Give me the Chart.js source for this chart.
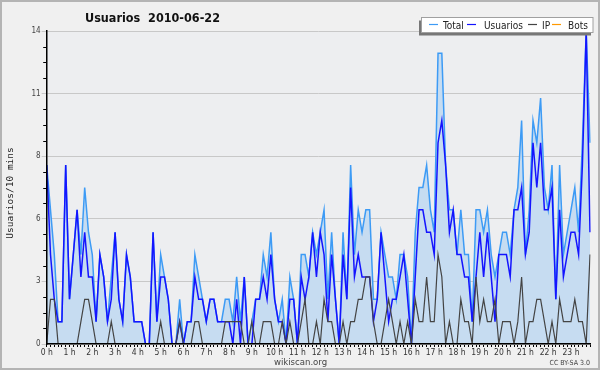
<!DOCTYPE html>
<html>
<head>
<meta charset="utf-8">
<script src="https://cdn.jsdelivr.net/npm/chart.js@4.4.1/dist/chart.umd.min.js"></script>
<style>
  html, body { margin: 0; padding: 0; background: #f0f0f0; }
  #wrap { position: relative; width: 600px; height: 370px; }
  canvas { display: block; }
</style>
</head>
<body>
<div id="wrap"><canvas id="c" width="600" height="370"></canvas></div>
<script>
// ---- data (10-minute intervals, 2010-06-22) ----
const CATEGORIES = [];
for (let h = 0; h < 24; h++) {
  for (let m = 0; m < 60; m += 10) {
    CATEGORIES.push(String(h).padStart(2, '0') + ':' + String(m).padStart(2, '0'));
  }
}

const TOTAL = [
  8,6,4,1,1,8,2,4,6,4,
  7,5,4,1,4,3,1,3,5,2,
  1,4,3,1,1,1,0,0,5,1,
  4,3,2,0,0,2,0,1,1,4,
  3,2,1,2,2,1,1,2,2,1,
  3,1,3,0,1,2,2,4,3,5,
  2,1,2,0,3,2,0,4,4,3,
  5,4,5,6,2,5,2,0,5,2,
  8,4,6,5,6,6,2,2,5,4,
  3,3,2,4,4,3,0,5,7,7,
  8,6,5,13,13,8,6,6,4,6,
  4,4,1,6,6,5,6,4,3,4,
  5,5,4,6,7,10,4,6,10,9,
  11,7,6,8,2,8,4,5,6,7,
  5,9,14,9
];

const USUARIOS = [
  8,4,2,1,1,8,2,4,6,3,
  5,3,3,1,4,3,1,2,5,2,
  1,4,3,1,1,1,0,0,5,1,
  3,3,2,0,0,1,0,1,1,3,
  2,2,1,2,2,1,1,1,1,0,
  2,0,3,0,0,2,2,3,2,4,
  2,1,1,0,2,2,0,3,2,3,
  5,3,5,4,1,4,2,0,4,2,
  7,3,4,3,3,3,1,2,5,3,
  1,2,2,3,4,2,0,3,6,6,
  5,5,4,9,10,8,5,6,4,4,
  3,3,1,3,5,3,5,3,1,4,
  4,4,3,6,6,7,4,5,9,7,
  9,6,6,7,2,6,3,4,5,5,
  4,8,14,5
];

const IP = [
  0,2,2,0,0,0,0,0,0,1,
  2,2,1,0,0,0,0,1,0,0,
  0,0,0,0,0,0,0,0,0,0,
  1,0,0,0,0,1,0,0,0,1,
  1,0,0,0,0,0,0,1,1,1,
  1,1,0,0,1,0,0,1,1,1,
  0,0,1,0,1,0,0,1,2,0,
  0,1,0,2,1,1,0,0,1,0,
  1,1,2,2,3,3,1,0,0,1,
  2,1,0,1,0,1,0,2,1,1,
  3,1,1,4,3,0,1,0,0,2,
  1,1,0,3,1,2,1,1,2,0,
  1,1,1,0,1,3,0,1,1,2,
  2,1,0,1,0,2,1,1,1,2,
  1,1,0,4
];

const BOTS = [
  0,0,0,0,0,0,0,0,0,0,
  0,0,0,0,0,0,0,0,0,0,
  0,0,0,0,0,0,0,0,0,0,
  0,0,0,0,0,0,0,0,0,0,
  0,0,0,0,0,0,0,0,0,0,
  0,0,0,0,0,0,0,0,0,0,
  0,0,0,0,0,0,0,0,0,0,
  0,0,0,0,0,0,0,0,0,0,
  0,0,0,0,0,0,0,0,0,0,
  0,0,0,0,0,0,0,0,0,0,
  0,0,0,0,0,0,0,0,0,0,
  0,0,0,0,0,0,0,0,0,0,
  0,0,0,0,0,0,0,0,0,0,
  0,0,0,0,0,0,0,0,0,0,
  0,0,0,0
];

const Y_TICKS = [0, 2.8, 5.6, 8.4, 11.2, 14];
const Y_MINOR_STEP = 0.7;

const TITLE = 'Usuarios  2010-06-22';
const Y_TITLE = 'Usuarios/10 mins';
const FOOTER = 'wikiscan.org';
const LICENSE = 'CC BY-SA 3.0';

// ---- styles ----
const SANS = '"DejaVu Sans Condensed", "DejaVu Sans", sans-serif';
const MONO = '"DejaVu Sans Mono", monospace';
const COLORS = { total: '#3d9bf5', totalFill: '#c6dcf1', usu: '#1414ff', ip: '#444444', bots: '#ff9900' };

const decor = {
  id: 'decor',
  beforeDraw(chart) {
    const { ctx, chartArea: a } = chart;
    ctx.save();
    ctx.fillStyle = '#f0f0f0';
    ctx.fillRect(0, 0, chart.width, chart.height);
    ctx.fillStyle = '#edeef0';
    ctx.fillRect(a.left, a.top, a.right - a.left, a.bottom - a.top);
    ctx.restore();
  },
  afterDraw(chart) {
    const { ctx, chartArea: a } = chart;
    const y = chart.scales.y;
    ctx.save();
    // minor ticks on y axis
    ctx.strokeStyle = '#000';
    ctx.lineWidth = 1;
    for (let k = 1; k * Y_MINOR_STEP < 14 - 1e-6; k++) {
      if (k % 4 === 0) continue;
      const py = Math.round(y.getPixelForValue(k * Y_MINOR_STEP)) + 0.5;
      ctx.beginPath();
      ctx.moveTo(a.left - 3.5, py);
      ctx.lineTo(a.left, py);
      ctx.stroke();
    }
    // title
    ctx.fillStyle = '#111';
    ctx.font = 'bold 12.5px ' + SANS;
    ctx.textAlign = 'left';
    ctx.textBaseline = 'alphabetic';
    ctx.fillText(TITLE, 85, 21.5);
    // y title
    ctx.save();
    ctx.translate(13, 193);
    ctx.rotate(-Math.PI / 2);
    ctx.font = '9.5px ' + MONO;
    ctx.fillStyle = '#222';
    ctx.textAlign = 'center';
    ctx.fillText(Y_TITLE, 0, 0);
    ctx.restore();
    // footer
    ctx.fillStyle = '#444';
    ctx.font = '9.5px ' + SANS;
    ctx.textAlign = 'center';
    ctx.fillText(FOOTER, 300.5, 365);
    ctx.font = '7px ' + SANS;
    ctx.textAlign = 'right';
    ctx.fillText(LICENSE, 590, 365);
    // legend
    ctx.fillStyle = '#777';
    ctx.fillRect(419, 20.5, 172, 15);
    ctx.fillStyle = '#fff';
    ctx.fillRect(421.5, 17.5, 171.5, 15);
    ctx.strokeStyle = '#a0a0a0';
    ctx.lineWidth = 1;
    ctx.strokeRect(421.5, 17.5, 171.5, 15);
    const lineX = [429, 467, 528, 552];
    const textX = [443, 484, 542, 568];
    ctx.font = '10px ' + SANS;
    ctx.textAlign = 'left';
    chart.data.datasets.forEach((ds, i) => {
      ctx.strokeStyle = ds.borderColor;
      ctx.lineWidth = 1.2;
      ctx.beginPath();
      ctx.moveTo(lineX[i], 24.5);
      ctx.lineTo(lineX[i] + 9, 24.5);
      ctx.stroke();
      ctx.fillStyle = '#222';
      ctx.fillText(ds.label, textX[i], 28.5);
    });
    // outer border
    ctx.strokeStyle = '#b4b4b4';
    ctx.lineWidth = 2;
    ctx.strokeRect(1, 1, chart.width - 2, chart.height - 2);
    ctx.restore();
  }
};

const ctx = document.getElementById('c').getContext('2d');
new Chart(ctx, {
  type: 'line',
  data: {
    labels: CATEGORIES,
    datasets: [
      { label: 'Total', data: TOTAL, borderColor: COLORS.total, backgroundColor: COLORS.totalFill,
        fill: 'origin', borderWidth: 1.5, order: 4 },
      { label: 'Usuarios', data: USUARIOS, borderColor: COLORS.usu, backgroundColor: COLORS.usu,
        fill: false, borderWidth: 1.5, order: 3 },
      { label: 'IP', data: IP, borderColor: COLORS.ip, backgroundColor: COLORS.ip,
        fill: false, borderWidth: 1.2, order: 2 },
      { label: 'Bots', data: BOTS, borderColor: COLORS.bots, backgroundColor: COLORS.bots,
        fill: false, borderWidth: 1.5, order: 1 }
    ]
  },
  options: {
    responsive: false,
    animation: false,
    events: [],
    layout: { padding: { left: 0, top: 31, right: 10, bottom: 10 } },
    elements: { point: { radius: 0 }, line: { tension: 0 } },
    plugins: { legend: { display: false }, title: { display: false }, tooltip: { enabled: false } },
    scales: {
      x: {
        type: 'category',
        offset: false,
        grid: { display: true, drawOnChartArea: false, drawTicks: true, tickLength: 3, color: '#000', tickColor: '#000', lineWidth: 1 },
        border: { display: true, color: '#000', width: 1.5, z: 1 },
        ticks: {
          autoSkip: false, maxRotation: 0, minRotation: 0, padding: 1,
          color: '#333', font: { family: SANS, size: 8.5 },
          callback: (v, i) => (i % 6 === 0 ? (i / 6) + ' h' : '')
        },
        afterFit: (s) => { s.height = 16; }
      },
      y: {
        min: 0, max: 14,
        afterBuildTicks: (s) => { s.ticks = Y_TICKS.map(v => ({ value: v })); },
        grid: { color: '#c8c8c8', lineWidth: 1, tickLength: 5 },
        border: { display: true, color: '#000', width: 1.5, z: 1 },
        ticks: {
          padding: 1, color: '#444', font: { family: SANS, size: 8 },
          callback: (v) => String(Math.round(v))
        },
        afterFit: (s) => { s.width = 46.7; }
      }
    }
  },
  plugins: [decor]
});
</script>
</body>
</html>
